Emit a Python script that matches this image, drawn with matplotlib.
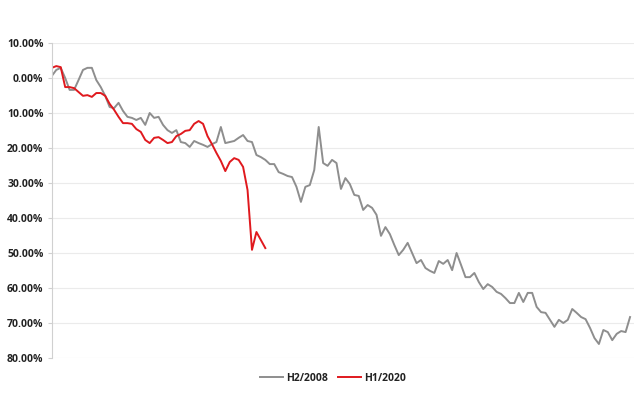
import matplotlib
matplotlib.use("Agg")
import matplotlib.pyplot as plt
from matplotlib.ticker import FuncFormatter

# cumulative change, percent, one value per trading day
h2_2008 = [0.6, 2.3, 2.9, 0.0, -3.4, -3.4, -0.6, 2.3, 2.9, 2.9,
           -0.6, -2.6, -5.1, -8.3, -8.6, -7.1, -9.4, -11.1, -11.4, -12.0,
           -11.4, -13.4, -10.0, -11.4, -11.1, -13.4, -14.9, -15.7, -14.9, -18.3,
           -18.6, -19.7, -18.0, -18.6, -19.1, -19.7, -18.9, -18.3, -14.0, -18.6,
           -18.3, -18.0, -17.1, -16.3, -18.0, -18.3, -22.0, -22.6, -23.4, -24.6,
           -24.6, -26.9, -27.4, -28.0, -28.3, -31.1, -35.4, -31.1, -30.6, -26.3,
           -14.0, -24.3, -25.1, -23.4, -24.3, -31.7, -28.6, -30.3, -33.4, -33.7,
           -37.7, -36.3, -37.1, -39.1, -45.1, -42.6, -44.6, -47.7, -50.6, -49.1,
           -47.1, -50.0, -52.9, -52.0, -54.3, -55.1, -55.7, -52.3, -53.1, -52.0,
           -54.9, -50.0, -53.4, -56.9, -56.9, -55.7, -58.3, -60.3, -58.9, -59.7,
           -61.1, -61.7, -62.9, -64.3, -64.3, -61.4, -64.0, -61.4, -61.4, -65.4,
           -66.9, -67.1, -69.1, -71.1, -69.1, -70.0, -69.1, -66.0, -67.1, -68.3,
           -68.9, -71.4, -74.3, -76.0, -72.0, -72.6, -74.9, -73.1, -72.3, -72.6,
           -68.3]
h1_2020 = [2.9, 3.4, 3.1, -2.6, -2.6, -2.9, -4.0, -5.1, -4.9, -5.4,
           -4.3, -4.3, -5.1, -7.4, -9.1, -11.1, -12.9, -12.9, -13.1, -14.6,
           -15.4, -17.7, -18.6, -17.1, -16.9, -17.7, -18.6, -18.3, -16.6, -16.0,
           -15.1, -14.9, -13.1, -12.3, -13.1, -16.6, -18.9, -21.4, -23.7, -26.6,
           -24.0, -22.9, -23.4, -25.4, -32.0, -49.1, -44.0, -46.3, -48.6]
series_names = ["H2/2008", "H1/2020"]
y_ticks = [10, 0, -10, -20, -30, -40, -50, -60, -70, -80]

plt.rcParams['font.family'] = ['Open Sans', 'DejaVu Sans']

fig = plt.figure(figsize=(6.4, 3.98), dpi=100)
ax = fig.add_axes([0.081, 0.1005, 0.909, 0.7915])

ax.plot(range(len(h2_2008)), h2_2008, color="#8e8e8e", lw=1.4, label=series_names[0])
ax.plot(range(len(h1_2020)), h1_2020, color="#e0191e", lw=1.4, label=series_names[1])

ax.set_ylim(-80, 10)
ax.set_xlim(0, len(h2_2008) - 0.2)
ax.set_yticks(y_ticks)
ax.yaxis.set_major_formatter(FuncFormatter(lambda v, p: "%.2f%%" % abs(v)))
ax.set_xticks([])
ax.grid(axis="y", color="#ebebeb", lw=0.8)
ax.set_axisbelow(True)
for s in ["top", "right", "bottom"]:
    ax.spines[s].set_visible(False)
ax.spines["left"].set_color("#d0d0d0")
ax.tick_params(axis="y", length=3, color="#d0d0d0", labelsize=7.5, labelcolor="#222222", pad=3)
for t in ax.get_yticklabels():
    t.set_fontweight("bold")

leg = fig.legend(loc="center", bbox_to_anchor=(0.52, 0.05), ncol=2, frameon=False,
                 fontsize=7.5, handlelength=2.2, handletextpad=0.3, columnspacing=1.0)
for t in leg.get_texts():
    t.set_fontweight("bold")
    t.set_color("#222222")

fig.savefig("out.png", dpi=100)
